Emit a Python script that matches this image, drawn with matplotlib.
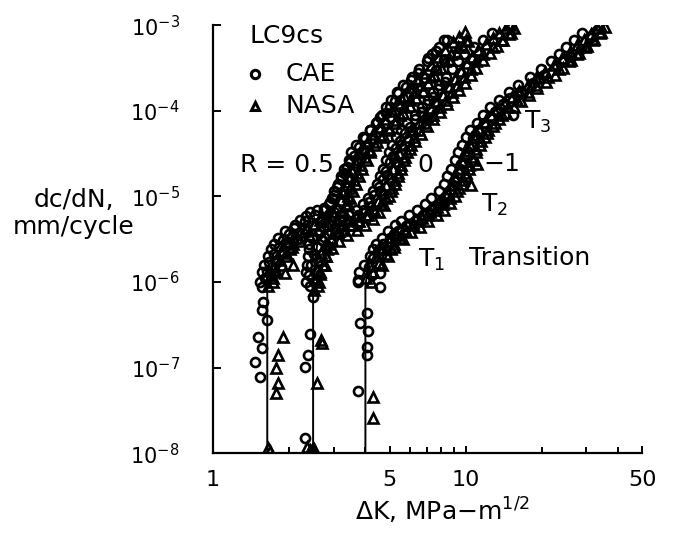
import numpy as np
import matplotlib
matplotlib.use('Agg')
import matplotlib.pyplot as plt

plt.rcParams['font.family'] = ['DejaVu Sans']
plt.rcParams['mathtext.default'] = 'regular'
plt.rcParams['font.size'] = 18

# --- fitted curves (dK, dc/dN) ---
fit_r05_x = [1.64, 1.64, 1.71, 1.93, 2.21, 2.66, 3.05, 3.34, 3.56, 3.90, 4.39, 5.27, 6.05, 7.26, 8.33, 9.7]
fit_r05_y = [1e-8, 9e-7, 1.6e-6, 3.2e-6, 4.4e-6, 5.7e-6, 7.4e-6, 1.4e-5, 2.2e-5, 3.8e-5, 5.5e-5, 1.17e-4, 2.0e-4, 3.4e-4, 5.4e-4, 8.1e-4]

fit_r0_x = [2.49, 2.49, 2.52, 2.59, 2.91, 3.5, 4.08, 4.73, 5.04, 5.37, 5.89, 6.63, 7.96, 9.29, 10.2, 12.2, 15.1]
fit_r0_y = [1e-8, 8e-7, 1.5e-6, 2.9e-6, 4.1e-6, 5.4e-6, 7.7e-6, 1.3e-5, 2.1e-5, 3.5e-5, 5.5e-5, 8e-5, 1.6e-4, 2.8e-4, 4.2e-4, 6.2e-4, 1.05e-3]

fit_rm1_x = [4.01, 4.01, 4.08, 4.48, 4.73, 5.67, 7.26, 8.72, 9.82, 11.2, 13.4, 16.5, 21.1, 26.8, 33.4]
fit_rm1_y = [1e-8, 9e-7, 1.3e-6, 2.0e-6, 2.8e-6, 4.7e-6, 7.7e-6, 1.3e-5, 2.9e-5, 6e-5, 1.1e-4, 1.75e-4, 3e-4, 5.5e-4, 1.05e-3]

# --- CAE data (circles) ---
cae_r05_x = [1.47, 1.54, 1.56, 1.51, 1.64, 1.56, 1.58, 1.56, 1.60, 1.63, 1.67, 1.74, 1.82, 1.90, 2.00,
             2.10, 2.21, 2.33, 2.43, 2.58, 2.75, 2.90, 3.00, 3.10, 3.20, 3.30, 3.40, 3.50, 3.62, 3.80,
             4.00, 4.20, 4.45, 4.60, 4.85, 5.04, 5.25, 5.42, 5.80, 6.10, 6.45, 7.07, 7.60, 8.18,
             1.68, 1.76, 1.98, 2.3, 2.7, 3.0, 3.2, 3.3, 3.45, 3.7, 3.95, 4.25, 4.6, 5.0, 5.5, 5.9,
             6.4, 6.9, 7.6, 8.2,
             1.53, 1.56, 1.59, 1.65, 1.70, 1.75, 1.81, 1.93, 2.11, 2.31, 2.54, 2.76, 2.88, 2.95, 3.02,
             3.11, 3.21, 3.29, 3.44, 3.53, 3.68, 3.92, 4.19, 4.42, 4.65, 4.84, 5.07, 5.35, 5.63, 6.14,
             6.51, 7.02, 7.39, 7.86, 8.46]
cae_r05_y = [1.16e-7, 7.7e-8, 1.7e-7, 2.3e-7, 3.6e-7, 4.7e-7, 5.8e-7, 8.7e-7, 1.1e-6, 1.35e-6, 1.7e-6,
             2.1e-6, 2.6e-6, 3.1e-6, 3.6e-6, 4.3e-6, 5.3e-6, 5.9e-6, 6.6e-6, 6.9e-6, 7.3e-6, 8.6e-6,
             1.05e-5, 1.3e-5, 1.6e-5, 1.9e-5, 2.2e-5, 2.5e-5, 3.0e-5, 3.8e-5, 4.8e-5, 6.0e-5, 7.5e-5,
             8.4e-5, 9.5e-5, 1.1e-4, 1.3e-4, 1.6e-4, 1.9e-4, 2.3e-4, 2.8e-4, 4.1e-4, 5.0e-4, 6.7e-4,
             1.25e-6, 1.75e-6, 2.9e-6, 4.2e-6, 5.4e-6, 6.5e-6, 8.5e-6, 1.15e-5, 1.7e-5, 2.7e-5, 3.4e-5,
             4.6e-5, 6.2e-5, 8.5e-5, 1.1e-4, 1.45e-4, 1.85e-4, 2.4e-4, 3.0e-4, 3.9e-4,
             1.0e-6, 1.3e-6, 1.6e-6, 2.0e-6, 2.4e-6, 2.8e-6, 3.3e-6, 3.9e-6, 4.6e-6, 5.2e-6, 6.0e-6,
             7.0e-6, 8.2e-6, 9.5e-6, 1.15e-5, 1.4e-5, 1.75e-5, 2.1e-5, 2.7e-5, 3.3e-5, 4.0e-5, 4.9e-5,
             6.0e-5, 7.3e-5, 9.0e-5, 1.1e-4, 1.35e-4, 1.65e-4, 2.0e-4, 2.5e-4, 3.1e-4, 3.8e-4, 4.6e-4,
             5.6e-4, 6.8e-4]

cae_r0_x = [2.43, 2.38, 2.32, 2.49, 2.32, 2.42, 2.40, 2.44, 2.50, 2.58, 2.70, 2.85, 3.05, 3.25, 3.5,
            3.75, 3.95, 4.15, 4.35, 4.55, 4.7, 4.85, 5.0, 5.15, 5.3, 5.5, 5.75, 6.0, 6.3, 6.65,
            7.07, 7.0, 7.4, 7.8, 8.3,
            2.5, 2.55, 2.75, 3.2, 3.7, 4.2, 4.6, 4.9, 5.2, 5.55, 6.1, 6.8, 7.5, 8.5, 9.5, 10.6,
            2.33, 2.33, 2.35, 2.37, 2.39, 2.40, 2.47, 2.65, 2.93, 3.18, 3.46, 3.67, 3.91, 4.09, 4.28,
            4.45, 4.58, 4.69, 4.84, 4.96, 5.12, 5.3, 5.53, 5.86, 6.28, 6.7, 7.07, 7.44, 7.81, 8.32,
            8.84, 9.3, 9.86, 10.8, 11.7, 12.7]
cae_r0_y = [2.5e-7, 1.4e-7, 1.01e-7, 6.6e-7, 1.5e-8, 9e-7, 1.2e-6, 1.6e-6, 2.1e-6, 2.6e-6, 3.1e-6,
            3.6e-6, 4.2e-6, 4.7e-6, 5.2e-6, 6.0e-6, 7.0e-6, 8.5e-6, 1.05e-5, 1.3e-5, 1.6e-5, 2.0e-5,
            2.5e-5, 3.0e-5, 3.7e-5, 4.5e-5, 5.5e-5, 6.5e-5, 8.0e-5, 9.8e-5, 7.8e-5, 1.2e-4, 1.45e-4,
            1.8e-4, 2.2e-4,
            1.0e-6, 1.9e-6, 3.4e-6, 4.4e-6, 5.7e-6, 7.5e-6, 1.15e-5, 1.8e-5, 2.8e-5, 4.0e-5, 5.8e-5,
            8.8e-5, 1.25e-4, 1.9e-4, 2.8e-4, 3.9e-4,
            1.0e-6, 1.3e-6, 1.6e-6, 2.0e-6, 2.4e-6, 2.8e-6, 3.3e-6, 3.9e-6, 4.6e-6, 5.2e-6, 6.0e-6,
            7.0e-6, 8.2e-6, 9.5e-6, 1.15e-5, 1.4e-5, 1.75e-5, 2.1e-5, 2.7e-5, 3.3e-5, 4.0e-5, 4.9e-5,
            6.0e-5, 7.3e-5, 9.0e-5, 1.1e-4, 1.35e-4, 1.65e-4, 2.0e-4, 2.5e-4, 3.1e-4, 3.8e-4, 4.6e-4,
            5.6e-4, 6.8e-4, 8.2e-4]

cae_rm1_x = [3.76, 3.83, 4.08, 4.12, 4.08, 4.08, 3.76, 4.6, 4.6, 4.15, 4.3, 4.5, 4.7, 5.0, 5.4, 5.8,
             6.3, 6.8, 7.3, 7.8, 8.3, 8.7, 9.0, 9.3, 9.6, 9.9, 10.3, 10.7, 11.2, 11.8, 12.5, 13.2,
             14.0, 15.4, 15.0, 16.5, 18.5, 20.5, 23.0, 26.0,
             4.25, 4.6, 5.2, 6.0, 7.0, 8.0, 8.9, 9.5, 10.1, 10.9, 11.9, 13.8, 16.0, 19.5, 24.5, 28.5, 31.0,
             3.74, 3.79, 3.95, 4.17, 4.28, 4.40, 4.65, 4.93, 5.23, 5.53, 5.95, 6.42, 6.88, 7.3, 7.81,
             8.18, 8.46, 8.72, 9.04, 9.3, 9.67, 10.0, 10.4, 11.1, 11.7, 12.5, 13.5, 14.9, 16.1, 17.9,
             19.8, 21.7, 23.3, 25.0, 26.9, 28.8]
cae_rm1_y = [5.4e-8, 3.3e-7, 4.3e-7, 2.7e-7, 1.73e-7, 1.4e-7, 1.05e-6, 8.7e-7, 1.27e-6, 1.5e-6, 1.9e-6,
             2.3e-6, 2.8e-6, 3.3e-6, 3.9e-6, 4.5e-6, 5.2e-6, 6.0e-6, 7.0e-6, 8.2e-6, 9.8e-6, 1.2e-5,
             1.5e-5, 1.9e-5, 2.4e-5, 3.0e-5, 3.8e-5, 4.8e-5, 6.0e-5, 7.2e-5, 8.5e-5, 1.0e-4, 1.2e-4,
             8.9e-5, 1.4e-4, 1.7e-4, 2.1e-4, 2.6e-4, 3.3e-4, 4.3e-4,
             1.2e-6, 2.4e-6, 3.6e-6, 4.8e-6, 6.4e-6, 8.8e-6, 1.35e-5, 2.1e-5, 3.4e-5, 5.2e-5, 6.6e-5,
             1.05e-4, 1.55e-4, 2.4e-4, 3.8e-4, 5.3e-4, 7.0e-4,
             1.0e-6, 1.3e-6, 1.6e-6, 2.0e-6, 2.4e-6, 2.8e-6, 3.3e-6, 3.9e-6, 4.6e-6, 5.2e-6, 6.0e-6,
             7.0e-6, 8.2e-6, 9.5e-6, 1.15e-5, 1.4e-5, 1.75e-5, 2.1e-5, 2.7e-5, 3.3e-5, 4.0e-5, 4.9e-5,
             6.0e-5, 7.3e-5, 9.0e-5, 1.1e-4, 1.35e-4, 1.65e-4, 2.0e-4, 2.5e-4, 3.1e-4, 3.8e-4, 4.6e-4,
             5.6e-4, 6.8e-4, 8.2e-4]

# --- NASA data (triangles) ---
nasa_r05_x = [1.90, 1.81, 1.78, 1.81, 1.78, 1.65, 1.68, 1.65, 1.70, 1.93, 2.08, 1.75, 1.80, 1.88, 1.97,
              2.08, 2.2, 2.35, 2.5, 2.65, 2.80, 2.95, 3.10, 3.2, 3.28, 3.38, 3.46, 3.55, 3.65, 3.78,
              3.92, 4.1, 4.3, 4.55, 4.8, 5.1, 5.4, 5.7, 6.05, 6.4, 6.8, 7.26, 7.8, 8.3, 8.9, 9.4, 9.9,
              1.72, 1.78, 1.85, 1.95, 2.05, 2.2, 2.4, 2.6, 2.85, 3.1, 3.25, 3.35, 3.42, 3.5, 3.6,
              3.72, 3.85, 4.0, 4.2, 4.45, 4.7, 4.95, 5.3, 5.65, 6.0, 6.35, 6.75, 7.1, 7.5, 8.0, 8.6,
              9.2, 9.8, 10.2,
              1.73, 1.76, 1.88, 1.95, 2.01, 2.07, 2.15, 2.29, 2.50, 2.73, 3.0, 3.27, 3.41, 3.49, 3.58,
              3.67, 3.80, 3.89, 4.07, 4.18, 4.36, 4.64, 4.95, 5.23, 5.5, 5.72, 6.0, 6.33, 6.66, 7.26,
              7.7, 8.3, 8.75, 9.3, 10.0]
nasa_r05_y = [2.26e-7, 1.4e-7, 9.8e-8, 6.7e-8, 5.0e-8, 1.14e-8, 1.05e-8, 9e-7, 1.2e-6, 1.27e-6, 1.57e-6,
              1.5e-6, 1.9e-6, 2.3e-6, 2.9e-6, 3.3e-6, 3.8e-6, 4.3e-6, 4.8e-6, 5.3e-6, 5.9e-6, 6.5e-6,
              7.5e-6, 9.0e-6, 1.1e-5, 1.35e-5, 1.65e-5, 2.0e-5, 2.5e-5, 3.1e-5, 3.7e-5, 4.5e-5, 5.3e-5,
              6.5e-5, 8.0e-5, 1.0e-4, 1.25e-4, 1.5e-4, 1.9e-4, 2.3e-4, 2.8e-4, 3.4e-4, 4.2e-4, 5.2e-4,
              6.3e-4, 7.3e-4, 8.3e-4,
              1.1e-6, 1.4e-6, 1.8e-6, 2.2e-6, 2.6e-6, 3.0e-6, 3.5e-6, 4.0e-6, 4.6e-6, 5.5e-6, 6.5e-6,
              8.0e-6, 1.0e-5, 1.25e-5, 1.55e-5, 1.9e-5, 2.3e-5, 2.9e-5, 3.5e-5, 4.3e-5, 5.2e-5, 6.3e-5,
              7.8e-5, 9.5e-5, 1.15e-4, 1.4e-4, 1.7e-4, 2.1e-4, 2.6e-4, 3.2e-4, 3.9e-4, 4.7e-4, 5.6e-4,
              6.6e-4,
              1.0e-6, 1.3e-6, 1.6e-6, 2.0e-6, 2.4e-6, 2.8e-6, 3.3e-6, 3.9e-6, 4.6e-6, 5.2e-6, 6.0e-6,
              7.0e-6, 8.2e-6, 9.5e-6, 1.15e-5, 1.4e-5, 1.75e-5, 2.1e-5, 2.7e-5, 3.3e-5, 4.0e-5, 4.9e-5,
              6.0e-5, 7.3e-5, 9.0e-5, 1.1e-4, 1.35e-4, 1.65e-4, 2.0e-4, 2.5e-4, 3.1e-4, 3.8e-4, 4.6e-4,
              5.6e-4, 6.8e-4]

nasa_r0_x = [2.71, 2.68, 2.59, 2.36, 2.47, 2.42, 2.52, 2.50, 2.55, 2.58, 2.62, 2.68, 2.78, 2.92, 3.1,
             3.3, 3.55, 3.8, 4.05, 4.3, 4.5, 4.7, 4.85, 5.0, 5.15, 5.3, 5.45, 5.65, 5.9, 6.2, 6.55,
             6.9, 7.3, 7.7, 8.1, 8.6, 9.1, 9.6, 10.1, 10.6, 11.2, 12.0, 12.8, 13.6, 14.4, 15.0,
             2.6, 2.65, 2.72, 2.8, 2.95, 3.15, 3.4, 3.7, 4.0, 4.3, 4.55, 4.75, 4.95, 5.1, 5.25, 5.4,
             5.55, 5.75, 6.0, 6.3, 6.65, 7.0, 7.45, 7.9, 8.4, 8.9, 9.4, 9.9, 10.5, 11.0, 11.7, 12.5,
             13.3, 14.1, 14.9, 15.6,
             2.62, 2.64, 2.78, 2.81, 2.83, 2.84, 2.93, 3.14, 3.47, 3.76, 4.09, 4.35, 4.62, 4.84, 5.06,
             5.26, 5.42, 5.54, 5.72, 5.86, 6.05, 6.27, 6.55, 6.93, 7.43, 7.92, 8.36, 8.8, 9.24, 9.85,
             10.5, 11.0, 11.7, 12.8, 13.9, 15.1]
nasa_r0_y = [1.93e-7, 2.1e-7, 6.7e-8, 1.17e-8, 1.08e-8, 1.1e-8, 1.12e-8, 8e-7, 1.1e-6, 1.4e-6, 1.8e-6,
             2.2e-6, 2.7e-6, 3.2e-6, 3.7e-6, 4.1e-6, 4.6e-6, 5.2e-6, 6.0e-6, 7.2e-6, 8.8e-6, 1.1e-5,
             1.35e-5, 1.7e-5, 2.1e-5, 2.6e-5, 3.2e-5, 4.0e-5, 4.9e-5, 6.0e-5, 7.3e-5, 8.8e-5, 1.08e-4,
             1.3e-4, 1.55e-4, 1.9e-4, 2.35e-4, 2.9e-4, 3.6e-4, 4.3e-4, 5.1e-4, 6.0e-4, 7.0e-4, 8.1e-4,
             9.2e-4, 1.0e-3,
             9e-7, 1.25e-6, 1.6e-6, 2.0e-6, 2.5e-6, 3.0e-6, 3.5e-6, 4.0e-6, 4.6e-6, 5.4e-6, 6.5e-6,
             8.0e-6, 1.0e-5, 1.25e-5, 1.55e-5, 1.9e-5, 2.35e-5, 2.9e-5, 3.6e-5, 4.4e-5, 5.4e-5, 6.6e-5,
             8.0e-5, 9.8e-5, 1.2e-4, 1.45e-4, 1.75e-4, 2.1e-4, 2.6e-4, 3.2e-4, 3.9e-4, 4.7e-4, 5.7e-4,
             6.8e-4, 8.0e-4, 9.2e-4,
             1.0e-6, 1.3e-6, 1.6e-6, 2.0e-6, 2.4e-6, 2.8e-6, 3.3e-6, 3.9e-6, 4.6e-6, 5.2e-6, 6.0e-6,
             7.0e-6, 8.2e-6, 9.5e-6, 1.15e-5, 1.4e-5, 1.75e-5, 2.1e-5, 2.7e-5, 3.3e-5, 4.0e-5, 4.9e-5,
             6.0e-5, 7.3e-5, 9.0e-5, 1.1e-4, 1.35e-4, 1.65e-4, 2.0e-4, 2.5e-4, 3.1e-4, 3.8e-4, 4.6e-4,
             5.6e-4, 6.8e-4, 8.2e-4]

nasa_rm1_x = [4.31, 4.31, 4.05, 4.2, 4.4, 4.65, 4.95, 5.3, 5.7, 6.2, 6.7, 7.2, 7.7, 8.1, 8.5, 8.8,
              9.1, 9.4, 9.7, 10.0, 10.4, 10.8, 11.3, 11.9, 12.6, 13.3, 14.2, 15.2, 16.3, 17.6, 19.0,
              20.6, 22.3, 24.0, 25.8, 27.6, 29.5, 31.4, 33.0, 34.0, 11.1, 10.5,
              4.3, 4.55, 4.85, 5.2, 5.65, 6.1, 6.6, 7.1, 7.7, 8.2, 8.7, 9.1, 9.45, 9.75, 10.0, 10.3,
              10.6, 11.0, 11.5, 12.1, 12.8, 13.6, 14.5, 15.5, 16.6, 17.8, 19.2, 20.8, 22.5, 24.3,
              26.2, 28.2, 30.2, 32.2, 34.3, 35.5,
              4.22, 4.28, 4.68, 4.93, 5.06, 5.2, 5.5, 5.83, 6.18, 6.55, 7.04, 7.59, 8.14, 8.64, 9.24,
              9.68, 10.0, 10.3, 10.7, 11.0, 11.4, 11.9, 12.3, 13.1, 13.9, 14.7, 16.0, 17.6, 19.0, 21.1,
              23.4, 25.6, 27.5, 29.6, 31.8, 34.1]
nasa_rm1_y = [4.5e-8, 2.6e-8, 1.1e-6, 1.6e-6, 2.0e-6, 2.5e-6, 3.0e-6, 3.5e-6, 4.2e-6, 4.9e-6, 5.6e-6,
              6.5e-6, 7.6e-6, 9.0e-6, 1.1e-5, 1.35e-5, 1.7e-5, 2.1e-5, 2.6e-5, 3.2e-5, 4.0e-5, 5.0e-5,
              6.2e-5, 7.5e-5, 9.0e-5, 1.05e-4, 1.25e-4, 1.45e-4, 1.7e-4, 2.0e-4, 2.4e-4, 2.85e-4,
              3.4e-4, 4.1e-4, 4.9e-4, 5.8e-4, 6.8e-4, 8.0e-4, 9.2e-4, 1.0e-3, 2.4e-5, 1.35e-5,
              1.3e-6, 1.65e-6, 2.1e-6, 2.6e-6, 3.2e-6, 3.8e-6, 4.4e-6, 5.1e-6, 6.0e-6, 7.0e-6, 8.3e-6,
              1.0e-5, 1.25e-5, 1.55e-5, 1.9e-5, 2.35e-5, 2.9e-5, 3.6e-5, 4.5e-5, 5.5e-5, 6.7e-5, 8.0e-5,
              9.5e-5, 1.12e-4, 1.32e-4, 1.55e-4, 1.85e-4, 2.2e-4, 2.65e-4, 3.2e-4, 3.9e-4, 4.7e-4,
              5.7e-4, 6.9e-4, 8.3e-4, 9.6e-4,
              1.0e-6, 1.3e-6, 1.6e-6, 2.0e-6, 2.4e-6, 2.8e-6, 3.3e-6, 3.9e-6, 4.6e-6, 5.2e-6, 6.0e-6,
              7.0e-6, 8.2e-6, 9.5e-6, 1.15e-5, 1.4e-5, 1.75e-5, 2.1e-5, 2.7e-5, 3.3e-5, 4.0e-5, 4.9e-5,
              6.0e-5, 7.3e-5, 9.0e-5, 1.1e-4, 1.35e-4, 1.65e-4, 2.0e-4, 2.5e-4, 3.1e-4, 3.8e-4, 4.6e-4,
              5.6e-4, 6.8e-4, 8.2e-4]

x_major = [1, 5, 10, 50]
x_minor = [2, 3, 4, 6, 7, 8, 9, 20, 30, 40]
y_major = [1e-8, 1e-7, 1e-6, 1e-5, 1e-4, 1e-3]

fig = plt.figure(figsize=(6.74, 5.37), dpi=100)
ax = fig.add_axes([0.316, 0.156, 0.637, 0.797])

for fx, fy in [(fit_r05_x, fit_r05_y), (fit_r0_x, fit_r0_y), (fit_rm1_x, fit_rm1_y)]:
    ax.plot(fx, fy, color='black', lw=1.4, zorder=2)

circ = dict(marker='o', ms=6.5, mfc='none', mec='black', mew=1.9, ls='none', zorder=3)
tri = dict(marker='^', ms=7, mfc='none', mec='black', mew=1.9, ls='none', zorder=3)
for cx, cy in [(cae_r05_x, cae_r05_y), (cae_r0_x, cae_r0_y), (cae_rm1_x, cae_rm1_y)]:
    ax.plot(cx, cy, **circ)
for nx, ny in [(nasa_r05_x, nasa_r05_y), (nasa_r0_x, nasa_r0_y), (nasa_rm1_x, nasa_rm1_y)]:
    ax.plot(nx, ny, **tri)

ax.set_xscale('log')
ax.set_yscale('log')
ax.set_xlim(1, 50)
ax.set_ylim(1e-8, 1e-3)

ax.set_xticks(x_major)
ax.set_xticklabels([str(v) for v in x_major])
ax.set_xticks(x_minor, minor=True)
ax.set_xticklabels([], minor=True)
ax.set_yticks(y_major)
ax.set_yticklabels(['10$^{%d}$' % int(np.log10(v)) for v in y_major])
ax.yaxis.set_minor_locator(matplotlib.ticker.NullLocator())

ax.tick_params(axis='both', which='both', direction='in', width=1.4)
ax.tick_params(axis='x', which='major', length=5, pad=12, labelsize=16)
ax.tick_params(axis='x', which='minor', length=4)
ax.tick_params(axis='y', which='major', length=6, pad=24, labelsize=15)

for s in ['top', 'right']:
    ax.spines[s].set_visible(False)
for s in ['left', 'bottom']:
    ax.spines[s].set_linewidth(1.6)

# labels
ax.set_xlabel('ΔK, MPa−m$^{1/2}$', fontsize=18)
ax.xaxis.set_label_coords(0.535, -0.1, transform=ax.transAxes)
ax.xaxis.label.set_va('top')
ax.text(-0.325, 0.56, 'dc/dN,\nmm/cycle', transform=ax.transAxes, ha='center', va='center',
        fontsize=18, linespacing=1.15)

# annotations
ax.text(1.40, 7.4e-4, 'LC9cs', ha='left', va='center', fontsize=18)
ax.plot([1.47], [2.7e-4], marker='o', ms=6, mfc='none', mec='black', mew=2.2, ls='none')
ax.text(1.93, 2.7e-4, 'CAE', ha='left', va='center', fontsize=18)
ax.plot([1.47], [1.13e-4], marker='^', ms=6, mfc='none', mec='black', mew=2.2, ls='none')
ax.text(1.93, 1.13e-4, 'NASA', ha='left', va='center', fontsize=18)
ax.text(1.28, 2.3e-5, 'R = 0.5', ha='left', va='center', fontsize=18)
ax.text(6.45, 2.3e-5, '0', ha='left', va='center', fontsize=18)
ax.text(11.8, 2.4e-5, '−1', ha='left', va='center', fontsize=18)
ax.text(17.0, 7.4e-5, 'T$_3$', ha='left', va='center', fontsize=18)
ax.text(11.5, 7.9e-6, 'T$_2$', ha='left', va='center', fontsize=18)
ax.text(6.45, 1.8e-6, 'T$_1$', ha='left', va='center', fontsize=18)
ax.text(10.3, 1.9e-6, 'Transition', ha='left', va='center', fontsize=18)

fig.savefig('out.png', dpi=100)
